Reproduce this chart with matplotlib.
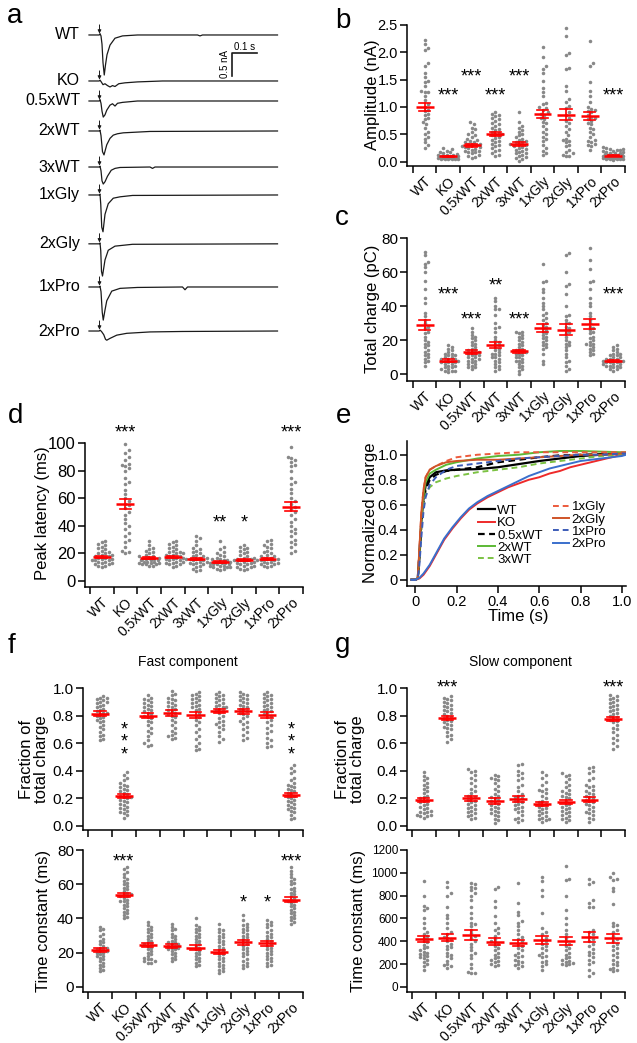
import numpy as np
import matplotlib
matplotlib.use("Agg")
import matplotlib.pyplot as plt
from matplotlib import transforms

plt.rcParams['font.family'] = ['Liberation Sans', 'DejaVu Sans']
plt.rcParams['axes.linewidth'] = 1.1

W, H = 637, 1043
fig = plt.figure(figsize=(W / 100, H / 100), dpi=100)

groups = ['WT', 'KO', '0.5xWT', '2xWT', '3xWT', '1xGly', '2xGly', '1xPro', '2xPro']

# ---------------- panel a: example traces (time s, current nA) ----------------
trace_labels = groups
tr_WT_t = [-0.044, -0.003, 0.0, 0.004, 0.008, 0.012, 0.017, 0.022, 0.028, 0.04, 0.06, 0.09, 0.15, 0.39, 0.40, 0.41, 0.71]
tr_WT_i = [0, 0, 0.03, -0.02, -0.2, -0.6, -0.87, -0.65, -0.43, -0.22, -0.07, -0.02, 0, 0, -0.02, 0, 0]
tr_KO_t = [-0.044, -0.003, 0.0, 0.005, 0.012, 0.02, 0.03, 0.04, 0.05, 0.06, 0.075, 0.1, 0.15, 0.25, 0.71]
tr_KO_i = [0, 0, 0.02, -0.02, -0.08, -0.06, -0.1, -0.13, -0.1, -0.12, -0.06, -0.04, -0.02, 0, 0]
tr_05_t = [-0.044, -0.003, 0.0, 0.004, 0.008, 0.013, 0.02, 0.027, 0.04, 0.05, 0.06, 0.07, 0.09, 0.15, 0.71]
tr_05_i = [0, 0, 0.03, -0.05, -0.22, -0.35, -0.3, -0.2, -0.09, -0.06, -0.11, -0.05, -0.03, 0, 0]
tr_2x_t = [-0.044, -0.003, 0.0, 0.004, 0.01, 0.016, 0.027, 0.04, 0.053, 0.07, 0.093, 0.2, 0.71]
tr_2x_i = [0, 0, 0.02, -0.1, -0.45, -0.52, -0.3, -0.16, -0.09, -0.06, -0.04, -0.01, 0]
tr_3x_t = [-0.044, -0.003, 0.0, 0.004, 0.008, 0.013, 0.02, 0.03, 0.045, 0.06, 0.08, 0.2, 0.21, 0.22, 0.71]
tr_3x_i = [0, 0, 0.02, -0.08, -0.3, -0.37, -0.32, -0.2, -0.07, -0.03, -0.01, 0, -0.03, 0, 0]
tr_1G_t = [-0.044, -0.003, 0.0, 0.003, 0.007, 0.012, 0.02, 0.033, 0.053, 0.08, 0.13, 0.71]
tr_1G_i = [0, 0, 0.02, -0.2, -0.7, -0.8, -0.42, -0.19, -0.07, -0.04, -0.01, 0]
tr_2G_t = [-0.044, -0.003, 0.0, 0.003, 0.006, 0.01, 0.02, 0.033, 0.06, 0.13, 0.71]
tr_2G_i = [0, 0, 0.02, -0.15, -0.6, -0.7, -0.35, -0.14, -0.05, -0.01, 0]
tr_1P_t = [-0.044, -0.003, 0.0, 0.004, 0.009, 0.013, 0.02, 0.027, 0.047, 0.08, 0.15, 0.33, 0.34, 0.35, 0.71]
tr_1P_i = [0, 0, 0.02, -0.1, -0.55, -0.72, -0.5, -0.3, -0.09, -0.03, -0.01, 0, -0.06, 0, 0]
tr_2P_t = [-0.044, -0.003, 0.0, 0.006, 0.015, 0.022, 0.027, 0.04, 0.067, 0.107, 0.2, 0.33, 0.71]
tr_2P_i = [0, 0, 0.02, -0.01, -0.08, -0.18, -0.2, -0.16, -0.09, -0.05, -0.02, -0.01, 0]
trace_t = [tr_WT_t, tr_KO_t, tr_05_t, tr_2x_t, tr_3x_t, tr_1G_t, tr_2G_t, tr_1P_t, tr_2P_t]
trace_i = [tr_WT_i, tr_KO_i, tr_05_i, tr_2x_i, tr_3x_i, tr_1G_i, tr_2G_i, tr_1P_i, tr_2P_i]
trace_offsets = [0, -1.0, -1.435, -2.087, -2.87, -3.478, -4.54, -5.478, -6.435]

# ---------------- panel b: amplitude (nA) ----------------
amp_vals = [
    [2.22, 2.15, 2.08, 2.05, 1.8, 1.75, 1.62, 1.55, 1.48, 1.45, 1.38, 1.3, 1.28, 1.27, 1.2, 1.12, 1.05, 1.0, 0.95,
     0.92, 0.88, 0.85, 0.8, 0.78, 0.72, 0.68, 0.62, 0.55, 0.5, 0.45, 0.42, 0.35, 0.3, 0.25],
    [0.25, 0.23, 0.2, 0.18, 0.17, 0.15, 0.14, 0.13, 0.12, 0.12, 0.11, 0.1, 0.1, 0.09, 0.09, 0.08, 0.08, 0.08, 0.07,
     0.07, 0.07, 0.06, 0.06, 0.06, 0.05, 0.05, 0.05, 0.04, 0.04, 0.04],
    [0.72, 0.68, 0.62, 0.6, 0.55, 0.5, 0.48, 0.45, 0.42, 0.4, 0.38, 0.36, 0.35, 0.33, 0.32, 0.3, 0.3, 0.28, 0.27,
     0.26, 0.25, 0.24, 0.22, 0.2, 0.2, 0.18, 0.17, 0.15, 0.12, 0.1, 0.08, 0.06],
    [0.9, 0.88, 0.85, 0.83, 0.8, 0.78, 0.75, 0.7, 0.68, 0.65, 0.62, 0.6, 0.58, 0.55, 0.52, 0.5, 0.5, 0.48, 0.45,
     0.43, 0.4, 0.38, 0.35, 0.32, 0.3, 0.28, 0.25, 0.22, 0.2, 0.15, 0.12, 0.1],
    [0.9, 0.72, 0.65, 0.62, 0.58, 0.55, 0.5, 0.48, 0.45, 0.42, 0.4, 0.38, 0.36, 0.35, 0.33, 0.32, 0.3, 0.28, 0.27,
     0.25, 0.23, 0.22, 0.2, 0.18, 0.16, 0.15, 0.12, 0.1, 0.08, 0.06, 0.04, 0.02],
    [2.1, 1.92, 1.75, 1.7, 1.62, 1.48, 1.35, 1.28, 1.2, 1.08, 1.05, 1.0, 0.98, 0.95, 0.9, 0.88, 0.85, 0.8, 0.78,
     0.72, 0.7, 0.65, 0.6, 0.55, 0.5, 0.45, 0.42, 0.38, 0.3, 0.25, 0.2, 0.15, 0.12],
    [2.45, 2.3, 1.98, 1.95, 1.72, 1.7, 1.38, 1.3, 1.15, 1.1, 1.02, 0.98, 0.9, 0.85, 0.8, 0.75, 0.7, 0.65, 0.6,
     0.55, 0.48, 0.42, 0.4, 0.38, 0.35, 0.3, 0.28, 0.22, 0.18, 0.15, 0.12, 0.1, 0.1],
    [2.2, 1.8, 1.75, 1.45, 1.3, 1.2, 1.1, 1.0, 0.97, 0.95, 0.92, 0.9, 0.85, 0.82, 0.8, 0.78, 0.75, 0.7, 0.68,
     0.62, 0.6, 0.55, 0.5, 0.45, 0.4, 0.38, 0.35, 0.32, 0.3, 0.28, 0.22],
    [0.26, 0.25, 0.24, 0.23, 0.22, 0.21, 0.2, 0.19, 0.18, 0.17, 0.16, 0.15, 0.15, 0.14, 0.13, 0.13, 0.12, 0.12,
     0.11, 0.11, 0.1, 0.1, 0.09, 0.09, 0.08, 0.08, 0.08, 0.07, 0.07, 0.07, 0.06, 0.06, 0.06, 0.05, 0.05, 0.05,
     0.04, 0.04, 0.03],
]
amp_mean = [1.0, 0.1, 0.3, 0.5, 0.32, 0.87, 0.86, 0.83, 0.11]
amp_sem = [0.08, 0.01, 0.03, 0.04, 0.03, 0.08, 0.1, 0.07, 0.01]
amp_sig = [(1, '***', 1.30), (2, '***', 1.66), (3, '***', 1.30), (4, '***', 1.66), (8, '***', 1.30)]

# ---------------- panel c: total charge (pC) ----------------
chg_vals = [
    [72, 70, 66, 65, 63, 60, 55, 50, 45, 42, 36, 34, 32, 30, 28, 27, 25, 24, 22, 20, 19, 18, 17, 16, 14, 13, 12, 11,
     10, 9, 8, 7, 5],
    [17, 16, 15, 14, 13, 12, 12, 11, 11, 10, 10, 9, 9, 9, 8, 8, 8, 7, 7, 7, 6, 6, 5, 5, 4, 4, 3, 3, 2, 2, 2, 1],
    [27, 25, 23, 22, 21, 20, 19, 18, 17, 16, 15, 14, 14, 13, 13, 12, 12, 11, 11, 10, 10, 9, 9, 8, 8, 7, 6, 6, 5, 4,
     4, 3],
    [45, 43, 40, 38, 38, 35, 30, 28, 27, 25, 22, 20, 19, 18, 17, 16, 15, 14, 13, 12, 12, 11, 10, 10, 9, 8, 7, 6, 5,
     4, 3, 2],
    [25, 25, 24, 23, 22, 21, 20, 19, 18, 17, 16, 15, 14, 14, 13, 13, 12, 12, 11, 10, 10, 9, 8, 8, 7, 6, 5, 4, 3, 2, 0],
    [65, 55, 54, 50, 48, 45, 42, 40, 38, 36, 35, 33, 32, 30, 29, 28, 27, 26, 25, 24, 23, 22, 21, 20, 19, 18, 17, 16,
     15, 12, 8, 6],
    [71, 70, 60, 53, 52, 47, 40, 35, 34, 32, 30, 30, 28, 27, 26, 25, 24, 22, 20, 19, 18, 17, 16, 14, 12, 10, 8, 7, 5,
     3, 2],
    [74, 67, 62, 55, 54, 50, 45, 42, 40, 36, 34, 32, 30, 28, 27, 26, 25, 24, 22, 21, 20, 19, 18, 18, 17, 16, 15, 14,
     13, 12, 11],
    [17, 16, 15, 14, 13, 12, 12, 11, 11, 10, 10, 9, 9, 9, 8, 8, 8, 8, 7, 7, 7, 6, 6, 6, 5, 5, 5, 4, 4, 3, 3, 2],
]
chg_mean = [29, 8, 13, 17, 13.5, 27, 26, 29.5, 8]
chg_sem = [2.8, 0.8, 1.0, 1.8, 1.0, 2.2, 3.2, 3.0, 0.6]
chg_sig = [(1, '***', 50), (2, '***', 35), (3, '**', 55), (4, '***', 35), (8, '***', 50)]

# ---------------- panel d: peak latency (ms) ----------------
lat_vals = [
    [29, 28, 27, 26, 25, 24, 23, 22, 21, 20, 20, 19, 19, 18, 18, 17, 17, 16, 16, 15, 15, 15, 14, 14, 13, 13, 12, 12,
     11, 11, 10],
    [99, 95, 93, 90, 88, 85, 84, 83, 82, 80, 75, 72, 70, 66, 63, 60, 58, 56, 55, 53, 50, 48, 45, 42, 40, 38, 35, 33,
     30, 28, 25, 22, 21, 20],
    [29, 26, 24, 23, 22, 21, 20, 19, 18, 18, 17, 17, 16, 16, 16, 15, 15, 15, 14, 14, 14, 13, 13, 13, 12, 12, 12, 11,
     11],
    [29, 28, 27, 26, 25, 24, 23, 22, 21, 21, 20, 20, 19, 19, 18, 18, 17, 17, 16, 16, 15, 15, 14, 14, 13, 13, 12, 12,
     11, 10],
    [33, 31, 29, 26, 24, 23, 22, 21, 20, 19, 18, 18, 17, 17, 16, 16, 16, 15, 15, 14, 14, 13, 13, 12, 12, 11, 10, 9,
     8, 7],
    [29, 25, 23, 21, 20, 19, 18, 17, 16, 16, 15, 15, 14, 14, 14, 13, 13, 13, 12, 12, 12, 11, 11, 11, 10, 10, 10, 9,
     9, 8],
    [26, 25, 24, 23, 22, 21, 20, 19, 18, 17, 17, 16, 16, 15, 15, 15, 14, 14, 13, 13, 12, 12, 11, 11, 10, 10, 9, 9, 8],
    [30, 29, 27, 26, 25, 24, 22, 21, 20, 19, 18, 18, 17, 17, 16, 16, 15, 15, 15, 14, 14, 13, 13, 12, 12, 11, 11, 10],
    [97, 90, 89, 88, 86, 84, 83, 80, 75, 72, 70, 67, 64, 60, 58, 56, 54, 52, 50, 48, 45, 43, 40, 38, 36, 35, 33, 30,
     28, 27, 25, 22, 20],
]
lat_mean = [17.5, 56, 16.5, 17.5, 16, 14, 15, 16, 54]
lat_sem = [0.8, 3.5, 0.8, 0.8, 1.0, 0.8, 0.8, 0.8, 3.2]
lat_sig = [(1, '***', 111), (5, '**', 46), (6, '*', 46), (8, '***', 111)]

# ---------------- panel e: normalized cumulative charge ----------------
t_fast = [-0.02, 0.0, 0.012, 0.02, 0.03, 0.04, 0.05, 0.07, 0.1, 0.15, 0.2, 0.3, 0.4, 0.5, 0.6, 0.7, 0.8, 0.9, 1.0, 1.02]
e_WT = [0, 0, 0.01, 0.2, 0.48, 0.65, 0.75, 0.82, 0.86, 0.875, 0.88, 0.885, 0.9, 0.925, 0.95, 0.97, 0.99, 1.0, 1.01, 1.015]
e_05xWT = [0, 0, 0.01, 0.18, 0.45, 0.62, 0.72, 0.8, 0.84, 0.87, 0.88, 0.9, 0.94, 0.96, 0.98, 0.995, 1.0, 1.005, 1.01, 1.015]
e_2xWT = [0, 0, 0.01, 0.2, 0.5, 0.68, 0.78, 0.85, 0.88, 0.92, 0.94, 0.97, 0.99, 1.0, 1.02, 1.03, 1.03, 1.025, 1.02, 1.02]
e_3xWT = [0, 0, 0.01, 0.18, 0.42, 0.58, 0.68, 0.74, 0.78, 0.81, 0.83, 0.86, 0.88, 0.9, 0.93, 0.95, 0.97, 0.99, 1.0, 1.01]
e_1xGly = [0, 0, 0.01, 0.25, 0.55, 0.72, 0.82, 0.88, 0.91, 0.95, 0.98, 1.0, 1.01, 1.02, 1.02, 1.02, 1.02, 1.02, 1.02, 1.02]
e_2xGly = [0, 0, 0.01, 0.25, 0.55, 0.72, 0.82, 0.88, 0.91, 0.94, 0.95, 0.96, 0.96, 0.97, 0.98, 0.99, 1.0, 1.0, 1.01, 1.01]
e_1xPro = [0, 0, 0.005, 0.12, 0.35, 0.55, 0.66, 0.76, 0.82, 0.88, 0.91, 0.93, 0.95, 0.97, 0.98, 0.99, 1.0, 1.0, 1.01, 1.01]
t_slow = [-0.02, 0.0, 0.02, 0.04, 0.07, 0.1, 0.14, 0.18, 0.22, 0.26, 0.3, 0.35, 0.4, 0.45, 0.5, 0.55, 0.6, 0.65, 0.7,
          0.75, 0.8, 0.85, 0.9, 0.95, 1.0, 1.02]
e_KO = [0, 0, 0.01, 0.04, 0.11, 0.2, 0.32, 0.41, 0.49, 0.56, 0.61, 0.66, 0.7, 0.74, 0.77, 0.8, 0.82, 0.85, 0.87,
        0.9, 0.92, 0.94, 0.96, 0.98, 1.0, 1.005]
e_2xPro = [0, 0, 0.015, 0.05, 0.12, 0.21, 0.33, 0.42, 0.5, 0.57, 0.62, 0.67, 0.71, 0.75, 0.79, 0.83, 0.86, 0.89,
           0.91, 0.93, 0.95, 0.96, 0.97, 0.98, 0.99, 1.0]

# ---------------- panel f: fast component ----------------
ffrac_vals = [
    [0.94, 0.93, 0.93, 0.92, 0.91, 0.9, 0.9, 0.89, 0.88, 0.87, 0.86, 0.85, 0.84, 0.83, 0.82, 0.82, 0.81, 0.8, 0.79,
     0.78, 0.77, 0.76, 0.75, 0.73, 0.72, 0.7, 0.68, 0.66, 0.65, 0.63, 0.62],
    [0.39, 0.37, 0.35, 0.33, 0.31, 0.3, 0.29, 0.28, 0.27, 0.26, 0.25, 0.24, 0.23, 0.22, 0.21, 0.21, 0.2, 0.19, 0.18,
     0.17, 0.16, 0.15, 0.14, 0.13, 0.12, 0.11, 0.1, 0.09, 0.08, 0.06],
    [0.95, 0.93, 0.92, 0.91, 0.9, 0.89, 0.88, 0.87, 0.86, 0.85, 0.84, 0.83, 0.82, 0.81, 0.8, 0.79, 0.78, 0.76, 0.75,
     0.73, 0.71, 0.69, 0.67, 0.65, 0.62, 0.6, 0.59, 0.58],
    [0.98, 0.96, 0.95, 0.93, 0.92, 0.91, 0.9, 0.89, 0.88, 0.87, 0.86, 0.85, 0.84, 0.83, 0.82, 0.81, 0.8, 0.79, 0.77,
     0.75, 0.73, 0.71, 0.69, 0.67, 0.66, 0.65, 0.64, 0.63],
    [0.97, 0.96, 0.95, 0.94, 0.93, 0.92, 0.91, 0.9, 0.89, 0.88, 0.87, 0.86, 0.85, 0.84, 0.82, 0.8, 0.79, 0.77, 0.75,
     0.73, 0.7, 0.68, 0.65, 0.63, 0.6, 0.58, 0.56, 0.55],
    [0.97, 0.96, 0.95, 0.94, 0.93, 0.92, 0.91, 0.9, 0.89, 0.88, 0.87, 0.86, 0.86, 0.85, 0.84, 0.83, 0.82, 0.8, 0.78,
     0.76, 0.75, 0.74, 0.73, 0.72, 0.7, 0.68, 0.65, 0.63, 0.61],
    [0.97, 0.96, 0.95, 0.94, 0.93, 0.92, 0.91, 0.9, 0.89, 0.88, 0.87, 0.86, 0.85, 0.84, 0.83, 0.82, 0.81, 0.8, 0.78,
     0.76, 0.75, 0.74, 0.72, 0.7, 0.68, 0.66, 0.64, 0.62],
    [0.97, 0.96, 0.95, 0.94, 0.93, 0.92, 0.91, 0.9, 0.89, 0.88, 0.87, 0.86, 0.85, 0.84, 0.83, 0.82, 0.81, 0.8, 0.79,
     0.77, 0.75, 0.73, 0.71, 0.69, 0.67, 0.64, 0.62, 0.6, 0.58, 0.57],
    [0.44, 0.42, 0.4, 0.38, 0.35, 0.33, 0.31, 0.3, 0.29, 0.28, 0.27, 0.26, 0.25, 0.24, 0.23, 0.22, 0.21, 0.2, 0.19,
     0.18, 0.17, 0.16, 0.15, 0.14, 0.13, 0.12, 0.11, 0.1, 0.08, 0.06, 0.05],
]
ffrac_mean = [0.815, 0.215, 0.80, 0.82, 0.805, 0.835, 0.83, 0.805, 0.225]
ffrac_sem = [0.015, 0.015, 0.02, 0.02, 0.02, 0.015, 0.015, 0.02, 0.015]
ffrac_vsig = [(1, 0.645), (8, 0.645)]  # stacked "***", middle star position

ftau_vals = [
    [35, 34, 33, 31, 30, 28, 27, 26, 25, 24, 23, 23, 22, 22, 21, 21, 20, 20, 19, 18, 18, 17, 16, 15, 14, 13, 12, 11,
     10, 9],
    [70, 69, 67, 66, 64, 63, 62, 61, 60, 59, 58, 57, 56, 55, 54, 54, 53, 53, 52, 51, 50, 50, 49, 48, 47, 46, 45, 44,
     43, 42, 41, 40],
    [38, 36, 35, 34, 33, 32, 31, 30, 29, 28, 27, 26, 25, 25, 24, 23, 22, 21, 20, 19, 18, 17, 16, 16, 15, 15, 14, 14],
    [37, 35, 34, 33, 31, 30, 29, 28, 27, 26, 26, 25, 25, 24, 24, 23, 23, 22, 22, 21, 20, 19, 18, 17, 16, 15],
    [40, 36, 35, 34, 33, 32, 31, 30, 29, 28, 27, 26, 25, 24, 23, 22, 21, 20, 19, 18, 17, 16, 15, 14, 13, 12],
    [37, 34, 33, 32, 31, 30, 29, 28, 27, 26, 25, 24, 23, 22, 21, 20, 19, 18, 17, 16, 15, 14, 13, 12, 11, 10, 9, 8],
    [42, 39, 37, 36, 35, 34, 33, 32, 31, 30, 29, 28, 27, 26, 25, 24, 23, 22, 21, 20, 19, 18, 16, 15, 14, 13, 12, 11],
    [39, 38, 37, 36, 35, 33, 32, 31, 30, 29, 28, 27, 26, 25, 24, 23, 22, 21, 20, 19, 18, 17, 16, 15, 14, 13, 12],
    [70, 68, 66, 64, 63, 62, 61, 60, 58, 57, 56, 55, 54, 53, 52, 51, 50, 50, 49, 48, 47, 46, 45, 44, 43, 42, 41, 40,
     39, 38, 37],
]
ftau_mean = [21.5, 53.5, 24.5, 24, 23, 20.5, 26, 25.5, 51]
ftau_sem = [1.0, 1.2, 1.3, 1.0, 1.2, 1.2, 1.6, 1.5, 1.4]
ftau_sig = [(1, '***', 76.5), (6, '*', 52.5), (7, '*', 52.5), (8, '***', 76.5)]

# ---------------- panel g: slow component ----------------
sfrac_vals = [
    [0.39, 0.36, 0.35, 0.33, 0.31, 0.3, 0.28, 0.27, 0.25, 0.24, 0.22, 0.21, 0.2, 0.19, 0.18, 0.17, 0.16, 0.15, 0.14,
     0.13, 0.12, 0.11, 0.1, 0.1, 0.09, 0.08, 0.08, 0.07, 0.07, 0.06],
    [0.94, 0.93, 0.92, 0.91, 0.9, 0.89, 0.88, 0.87, 0.86, 0.85, 0.84, 0.83, 0.82, 0.81, 0.8, 0.79, 0.78, 0.77, 0.76,
     0.75, 0.74, 0.73, 0.72, 0.71, 0.7, 0.68, 0.66, 0.65, 0.63, 0.61],
    [0.41, 0.4, 0.39, 0.37, 0.35, 0.33, 0.31, 0.29, 0.27, 0.25, 0.24, 0.22, 0.21, 0.2, 0.19, 0.18, 0.17, 0.16, 0.15,
     0.14, 0.13, 0.12, 0.11, 0.1, 0.09, 0.08, 0.07, 0.06, 0.05],
    [0.37, 0.36, 0.35, 0.34, 0.33, 0.31, 0.29, 0.27, 0.25, 0.23, 0.22, 0.21, 0.2, 0.19, 0.18, 0.17, 0.16, 0.15, 0.14,
     0.13, 0.12, 0.11, 0.1, 0.09, 0.08, 0.07, 0.05, 0.04, 0.02],
    [0.45, 0.44, 0.4, 0.38, 0.37, 0.35, 0.33, 0.3, 0.28, 0.25, 0.23, 0.22, 0.21, 0.2, 0.19, 0.18, 0.17, 0.16, 0.15,
     0.14, 0.13, 0.12, 0.11, 0.1, 0.08, 0.06, 0.05, 0.04, 0.03],
    [0.39, 0.37, 0.35, 0.32, 0.3, 0.27, 0.26, 0.25, 0.24, 0.22, 0.2, 0.18, 0.17, 0.16, 0.15, 0.14, 0.13, 0.12, 0.11,
     0.1, 0.09, 0.08, 0.07, 0.06, 0.05, 0.05, 0.04, 0.03],
    [0.38, 0.37, 0.36, 0.34, 0.32, 0.3, 0.28, 0.26, 0.25, 0.24, 0.23, 0.22, 0.21, 0.2, 0.18, 0.16, 0.15, 0.14, 0.13,
     0.12, 0.11, 0.1, 0.09, 0.08, 0.07, 0.06, 0.05, 0.04, 0.03],
    [0.43, 0.42, 0.4, 0.38, 0.35, 0.33, 0.3, 0.29, 0.28, 0.26, 0.25, 0.24, 0.23, 0.22, 0.21, 0.2, 0.19, 0.18, 0.17,
     0.16, 0.15, 0.14, 0.12, 0.11, 0.1, 0.09, 0.08, 0.06, 0.05, 0.03],
    [0.95, 0.94, 0.93, 0.92, 0.91, 0.9, 0.89, 0.88, 0.87, 0.86, 0.85, 0.84, 0.83, 0.82, 0.81, 0.8, 0.79, 0.78, 0.77,
     0.76, 0.75, 0.73, 0.71, 0.7, 0.68, 0.66, 0.64, 0.62, 0.6, 0.58, 0.56],
]
sfrac_mean = [0.185, 0.785, 0.2, 0.18, 0.195, 0.16, 0.17, 0.19, 0.775]
sfrac_sem = [0.015, 0.015, 0.02, 0.02, 0.02, 0.015, 0.015, 0.02, 0.015]
sfrac_sig = [(1, '***', 1.04), (8, '***', 1.04)]

stau_vals = [
    [930, 800, 710, 690, 670, 600, 560, 520, 480, 460, 450, 430, 420, 400, 390, 370, 350, 340, 320, 310, 300, 290,
     280, 270, 260, 250, 240, 220, 200, 180, 150],
    [920, 880, 820, 800, 700, 630, 600, 560, 520, 480, 460, 440, 430, 420, 400, 380, 360, 350, 330, 300, 280, 270,
     250, 230, 200, 190, 180, 170],
    [910, 900, 880, 870, 850, 820, 800, 760, 700, 650, 600, 560, 550, 530, 500, 470, 450, 430, 400, 380, 350, 320,
     300, 280, 250, 200, 170, 130, 125, 120],
    [880, 860, 750, 700, 620, 560, 520, 500, 470, 450, 420, 400, 390, 380, 360, 340, 320, 300, 280, 260, 250, 240,
     230, 220, 200, 190, 180],
    [910, 740, 660, 630, 580, 560, 530, 500, 460, 440, 420, 400, 380, 360, 340, 320, 300, 280, 270, 260, 240, 230,
     220, 200, 190, 180, 170],
    [960, 930, 850, 800, 650, 520, 480, 460, 430, 410, 400, 380, 360, 340, 320, 300, 280, 270, 260, 230, 220, 200,
     180, 150],
    [1060, 950, 940, 800, 670, 600, 550, 500, 460, 430, 400, 380, 360, 340, 320, 300, 280, 260, 250, 240, 230, 220,
     210, 200, 200, 190],
    [950, 920, 900, 760, 740, 700, 700, 500, 480, 460, 440, 420, 400, 380, 360, 330, 310, 300, 280, 260, 240, 220,
     200, 150, 120, 100],
    [1000, 960, 950, 940, 870, 840, 730, 560, 540, 530, 500, 480, 450, 420, 400, 380, 360, 340, 320, 300, 280, 260,
     240, 220, 200, 190, 170, 160, 150, 140],
]
stau_mean = [420, 430, 455, 395, 385, 410, 400, 440, 425]
stau_sem = [30, 30, 42, 30, 30, 35, 35, 45, 42]


# ======================= helpers =======================
def px_axes(left, top, right, bottom):
    return fig.add_axes([left / W, 1 - bottom / H, (right - left) / W, (bottom - top) / H])


def swarm_offsets(ax, vals, diam=3.4, maxw=10.5, step=1.7):
    pos = ax.get_position()
    x0, x1 = ax.get_xlim()
    y0, y1 = ax.get_ylim()
    sx = pos.width * W / (x1 - x0)
    sy = pos.height * H / (y1 - y0)
    vals = np.asarray(vals, float)
    order = np.argsort(vals)
    cands = [0.0]
    k = 1
    while k * step <= maxw:
        cands += [k * step, -k * step]
        k += 1
    px, py = [], []
    offs = np.zeros(len(vals))
    for i in order:
        y = vals[i] * sy
        best, bestd = 0.0, -1.0
        for c in cands:
            d = np.min(np.hypot(np.array(px) - c, np.array(py) - y)) if px else np.inf
            if d >= diam:
                best = c
                break
            if d > bestd:
                bestd, best = d, c
        offs[i] = best
        px.append(best)
        py.append(y)
    return offs / sx


def star(ax, x, y, s, fs=13):
    off = transforms.ScaledTranslation(0, -0.56 * fs / 72, fig.dpi_scale_trans)
    ax.text(x, y, s, ha='center', va='baseline', fontsize=fs, transform=ax.transData + off, clip_on=False)


def vstar(ax, x, y, fs=13):
    off = transforms.ScaledTranslation(0, -0.30 * fs / 72, fig.dpi_scale_trans)
    ax.text(x, y, '*\n*\n*', ha='center', va='center', fontsize=fs, linespacing=0.66,
            transform=ax.transData + off, clip_on=False)


def dot_panel(box, vals, means, sems, xlim, ylim, yticks, yticklabels, yfs, xlabels=True):
    ax = px_axes(*box)
    ax.set_xlim(*xlim)
    ax.set_ylim(*ylim)
    for s in ['top', 'right']:
        ax.spines[s].set_visible(False)
    for i, v in enumerate(vals):
        xo = swarm_offsets(ax, v)
        ax.scatter(i + xo, v, s=6.5, c='#888888', linewidths=0, zorder=2, clip_on=False)
    for i, (m, e) in enumerate(zip(means, sems)):
        ax.plot([i - 0.38, i + 0.38], [m, m], color='#ff0000', lw=1.8, zorder=4, solid_capstyle='butt')
        ax.plot([i, i], [m - e, m + e], color='#ff0000', lw=1.2, zorder=4)
        ax.plot([i - 0.24, i + 0.24], [m - e, m - e], color='#ff0000', lw=1.2, zorder=4)
        ax.plot([i - 0.24, i + 0.24], [m + e, m + e], color='#ff0000', lw=1.2, zorder=4)
    ax.set_yticks(yticks)
    ax.set_yticklabels(yticklabels)
    ax.tick_params(axis='y', length=5, width=1.1, labelsize=yfs, pad=1.5)
    ax.set_xticks(range(len(groups)))
    if xlabels:
        ax.set_xticklabels(groups, rotation=45, ha='right', rotation_mode='anchor', fontsize=10)
    else:
        ax.set_xticklabels([])
    ax.tick_params(axis='x', which='major', length=0, pad=6)
    ax.set_xticks(np.arange(-0.5, len(groups), 1.0), minor=True)
    ax.tick_params(axis='x', which='minor', length=5, width=1.1)
    return ax


def ylab(x, y, s, fs=12):
    fig.text(x / W, 1 - y / H, s, rotation=90, ha='center', va='center', fontsize=fs, linespacing=1.0)


def letter(x, y, s):
    fig.text(x / W, 1 - y / H, s, ha='left', va='baseline', fontsize=20)


# ======================= panel a =======================
axa = px_axes(0, 10, 285, 345)
axa.set_xlim(-0.4, 0.74)
axa.set_ylim(-6.739, 0.543)
axa.axis('off')
for lab, tt, ii, off in zip(trace_labels, trace_t, trace_i, trace_offsets):
    axa.plot(tt, np.asarray(ii) + off, color='#1a1a1a', lw=0.9)
    axa.annotate('', xy=(-0.002, off + 0.03), xytext=(-0.002, off + 0.22),
                 arrowprops=dict(arrowstyle='-|>', lw=0.7, color='#1a1a1a', mutation_scale=5, shrinkA=0, shrinkB=0))
    axa.text(-0.08, off, lab, ha='right', va='center', fontsize=11.5)
# scale bar: 0.1 s, 0.5 nA
sb_t, sb_i = 0.528, -0.391
axa.plot([sb_t, sb_t, sb_t + 0.1], [sb_i - 0.5, sb_i, sb_i], color='#1a1a1a', lw=1.2)
axa.text(sb_t + 0.05, sb_i + 0.03, '0.1 s', ha='center', va='bottom', fontsize=7)
axa.text(sb_t - 0.006, sb_i - 0.25, '0.5 nA', ha='right', va='center', rotation=90, fontsize=7)

# ======================= panel b =======================
axb = dot_panel((407, 25, 625, 166), amp_vals, amp_mean, amp_sem, (-0.75, 8.5), (-0.08, 2.5),
                [0, 0.5, 1.0, 1.5, 2.0, 2.5], ['0.0', '0.5', '1.0', '1.5', '2.0', '2.5'], 10.5)
for g, s, y in amp_sig:
    star(axb, g, y, s)

# ======================= panel c =======================
axc = dot_panel((407, 238, 625, 381), chg_vals, chg_mean, chg_sem, (-0.75, 8.5), (-4, 80),
                [0, 20, 40, 60, 80], ['0', '20', '40', '60', '80'], 11)
for g, s, y in chg_sig:
    star(axc, g, y, s)

# ======================= panel d =======================
axd = dot_panel((85, 443, 303, 587), lat_vals, lat_mean, lat_sem, (-0.71, 8.5), (-4.3, 100),
                [0, 20, 40, 60, 80, 100], ['0', '20', '40', '60', '80', '100'], 12)
for g, s, y in lat_sig:
    star(axd, g, y, s)

# ======================= panel e =======================
axe = px_axes(407, 441, 626, 586)
axe.set_xlim(-0.04, 1.02)
axe.set_ylim(-0.05, 1.11)
for s in ['top', 'right']:
    axe.spines[s].set_visible(False)
dash = (0, (3, 2))
l_WT, = axe.plot(t_fast, e_WT, color='#000000', lw=1.6, label='WT')
l_KO, = axe.plot(t_slow, e_KO, color='#ee2a2a', lw=1.4, label='KO')
l_05, = axe.plot(t_fast, e_05xWT, color='#000000', lw=1.6, ls=dash, label='0.5xWT')
l_2x, = axe.plot(t_fast, e_2xWT, color='#5cb935', lw=1.4, label='2xWT')
l_3x, = axe.plot(t_fast, e_3xWT, color='#7cc243', lw=1.4, ls=dash, label='3xWT')
l_1G, = axe.plot(t_fast, e_1xGly, color='#ec5a3c', lw=1.4, ls=dash, label='1xGly')
l_2G, = axe.plot(t_fast, e_2xGly, color='#cf5428', lw=1.4, label='2xGly')
l_1P, = axe.plot(t_fast, e_1xPro, color='#3c5cb8', lw=1.4, ls=dash, label='1xPro')
l_2P, = axe.plot(t_slow, e_2xPro, color='#3a6fcc', lw=1.4, label='2xPro')
axe.set_xticks([0, 0.2, 0.4, 0.6, 0.8, 1.0])
axe.set_xticklabels(['0', '0.2', '0.4', '0.6', '0.8', '1.0'])
axe.set_yticks([0, 0.2, 0.4, 0.6, 0.8, 1.0])
axe.set_yticklabels(['0', '0.2', '0.4', '0.6', '0.8', '1.0'])
axe.tick_params(length=5, width=1.1, labelsize=10.5, pad=1.5)
leg_kw = dict(frameon=False, fontsize=9.5, handlelength=1.25, handletextpad=0.2, labelspacing=0.0,
              borderpad=0, borderaxespad=0, loc='upper left')
leg1 = axe.legend(handles=[l_WT, l_KO, l_05, l_2x, l_3x], bbox_to_anchor=(0.325, 0.56), **leg_kw)
axe.add_artist(leg1)
axe.legend(handles=[l_1G, l_2G, l_1P, l_2P], bbox_to_anchor=(0.665, 0.585), **leg_kw)
fig.text(518 / W, 1 - 616 / H, 'Time (s)', ha='center', va='center', fontsize=12)

# ======================= panel f =======================
axf1 = dot_panel((83, 688, 303, 830), ffrac_vals, ffrac_mean, ffrac_sem, (-0.71, 8.5), (-0.03, 1.0),
                 [0, 0.2, 0.4, 0.6, 0.8, 1.0], ['0.0', '0.2', '0.4', '0.6', '0.8', '1.0'], 11, xlabels=False)
for g, y in ffrac_vsig:
    vstar(axf1, g, y)
axf2 = dot_panel((83, 850, 303, 992), ftau_vals, ftau_mean, ftau_sem, (-0.71, 8.5), (-3, 80),
                 [0, 20, 40, 60, 80], ['0', '20', '40', '60', '80'], 11)
for g, s, y in ftau_sig:
    star(axf2, g, y, s)
fig.text(188 / W, 1 - 662 / H, 'Fast component', ha='center', va='center', fontsize=10)

# ======================= panel g =======================
axg1 = dot_panel((407, 688, 625, 830), sfrac_vals, sfrac_mean, sfrac_sem, (-0.71, 8.5), (-0.03, 1.0),
                 [0, 0.2, 0.4, 0.6, 0.8, 1.0], ['0.0', '0.2', '0.4', '0.6', '0.8', '1.0'], 11, xlabels=False)
for g, s, y in sfrac_sig:
    star(axg1, g, y, s)
axg2 = dot_panel((407, 850, 625, 992), stau_vals, stau_mean, stau_sem, (-0.71, 8.5), (-44, 1200),
                 [0, 200, 400, 600, 800, 1000, 1200], ['0', '200', '400', '600', '800', '1000', '1200'], 8.5)
fig.text(520 / W, 1 - 662 / H, 'Slow component', ha='center', va='center', fontsize=10)

# ======================= labels =======================
ylab(372, 95, 'Amplitude (nA)')
ylab(372, 309, 'Total charge (pC)')
ylab(43, 513, 'Peak latency (ms)')
ylab(371, 513, 'Normalized charge')
ylab(34, 759, 'Fraction of\ntotal charge')
ylab(44, 921, 'Time constant (ms)')
ylab(350, 759, 'Fraction of\ntotal charge')
ylab(358, 921, 'Time constant (ms)')

letter(7, 23, 'a')
letter(335, 28, 'b')
letter(335, 225, 'c')
letter(8, 423, 'd')
letter(336, 423, 'e')
letter(8, 653, 'f')
letter(335, 652, 'g')

fig.savefig('out.png', dpi=100)
